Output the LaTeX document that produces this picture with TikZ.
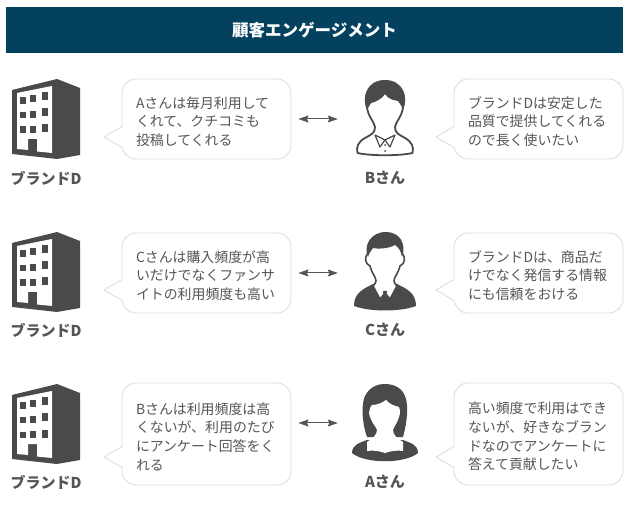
\documentclass[tikz,border=0pt]{standalone}
\usepackage{fontspec}
\usetikzlibrary{arrows.meta}
\setmainfont{Noto Sans CJK JP}
\definecolor{headblue}{HTML}{03415F}
\definecolor{icongray}{HTML}{4A4A4A}
\definecolor{txtgray}{HTML}{555555}
\definecolor{edgegray}{HTML}{DEDEDE}
\tikzset{
	bubble/.style={draw=edgegray,line width=0.9pt,fill=white,rounded corners=14pt,
		text width=141pt,inner xsep=14pt,inner ysep=0pt,minimum height=80pt,align=left,
		text=txtgray,font=\fontsize{13.9}{18.7}\selectfont,
		execute at begin node={\rule{0pt}{17pt}}},
	who/.style={text=txtgray,font=\fontsize{15}{17}\selectfont\bfseries},
	slot/.style={minimum width=94pt,minimum height=80pt,inner sep=0pt},
	link/.style={{Stealth[length=10pt,width=7pt,inset=1.5pt]}-{Stealth[length=10pt,width=7pt,inset=1.5pt]},draw=txtgray,line width=1pt,shorten <=7pt},
	building/.pic={
		\fill[icongray] (0,11)--(45,0)--(68,9)--(68,76)--(45,80)--(0,75)--cycle;
		\fill[white] (5,14)--(40,7)--(40,74)--(25,72.5)--(25,60)--(16,60)--(16,71)--(5,70)--cycle;
		\foreach \xw/\yw/\hw in {7.5/18/7,17.5/16/7.5,30/13.5/8,7.5/33/6.5,17.5/32/7,30/29.5/7.5,7.5/47.5/6.5,17.5/47/7,30/45.5/8}
		\fill[icongray] (\xw,\yw) rectangle ++(6,\hw);
	},
	manb/.pic={
		\draw[icongray,line width=1.8pt,fill=white,line join=round]
		(-18,28) .. controls (-17,38) and (-11,42) .. (-10,48)
		.. controls (-10,54) and (-13,55) .. (-20,59)
		.. controls (-27,63) and (-29,68) .. (-27.5,74)
		.. controls (-15,77) and (15,77) .. (27.5,74)
		.. controls (29,68) and (27,63) .. (20,59)
		.. controls (13,55) and (10,54) .. (10,48)
		.. controls (11,42) and (17,38) .. (18,28);
		\fill[icongray] (-18,31) .. controls (-24,18) and (-18,1) .. (0,1)
		.. controls (18,1) and (24,18) .. (18,31)
		.. controls (16,25) and (14,24) .. (13,22)
		.. controls (8,21) and (3,20) .. (0,15)
		.. controls (-3,20) and (-9,23) .. (-14,24)
		.. controls (-15,26) and (-16,27) .. (-18,31) -- cycle;
		\draw[icongray,line width=1.2pt,line join=round] (-10,56)--(-5,68)--(0,61)--(5,68)--(10,56) (-10,56)--(0,61)--(10,56);
		\fill[icongray] (0,66) circle (1) (0,72) circle (1);
	},
	manc/.pic={
		\fill[icongray] (-12,51) .. controls (-22,56) and (-31,60) .. (-31,73)
		.. controls (-15,79) and (15,79) .. (31,73)
		.. controls (31,60) and (22,56) .. (12,51) -- cycle;
		\draw[icongray,line width=1.6pt,fill=white,line join=round]
		(-17,20) .. controls (-21,24) and (-20,31) .. (-15,33)
		.. controls (-13,41) and (-9,44) .. (-9,48)
		.. controls (-9,50) and (-11,52) .. (-12,53)
		-- (-5,66) -- (0,60) -- (5,66) -- (12,53)
		.. controls (11,52) and (9,50) .. (9,48)
		.. controls (9,44) and (13,41) .. (15,33)
		.. controls (20,31) and (21,24) .. (17,20);
		\fill[icongray] (-2,58) -- (2,58) -- (1.5,61) -- (2.5,68) -- (0,72) -- (-2.5,68) -- (-1.5,61) -- cycle;
		\fill[icongray] (-17,24) .. controls (-22,12) and (-14,-1) .. (1,-1)
		.. controls (14,-1) and (22,10) .. (17,24)
		.. controls (16,18) and (14,15) .. (10,12)
		.. controls (3,16) and (-8,16) .. (-12,15)
		.. controls (-14,18) and (-16,20) .. (-17,24) -- cycle;
	},
	womana/.pic={
		\fill[icongray] (-18,57) .. controls (-26,60) and (-33,62) .. (-33,70)
		.. controls (-20,81) and (20,81) .. (33,70)
		.. controls (33,62) and (26,60) .. (18,57) -- cycle;
		\fill[icongray] (-18,54) .. controls (-23,40) and (-24,22) .. (-20,13)
		.. controls (-15,3) and (-6,1) .. (0,1)
		.. controls (6,1) and (16,3) .. (20,13)
		.. controls (24,22) and (22,40) .. (18,54) -- cycle;
		\fill[white] (-16,30) .. controls (-15,24) and (-14,23) .. (-13,22)
		.. controls (-8,22) and (-3,20) .. (1,17)
		.. controls (4,21) and (10,23) .. (14,24)
		.. controls (15,26) and (15,28) .. (15,30)
		.. controls (13,40) and (9,43) .. (8,47)
		.. controls (8,52) and (12,55) .. (18,59)
		-- (18,68) .. controls (12,67) and (6,68) .. (0,70)
		.. controls (-6,68) and (-12,67) .. (-18,68)
		-- (-18,59) .. controls (-12,55) and (-8,52) .. (-8,47)
		.. controls (-9,43) and (-14,40) .. (-16,30) -- cycle;
	},
}
\newcommand{\tailmark}[2]{
	\fill[white] (#1+1,#2-10.5)--(#1-18,#2)--(#1+1,#2+10.5)--cycle;
	\draw[edgegray,line width=0.9pt,line join=round] (#1,#2-10.5)--(#1-18,#2)--(#1,#2+10.5);
}
\begin{document}
\begin{tikzpicture}[x=1pt,y=-1pt]
	\useasboundingbox (0,0) rectangle (630,505);
	\path[fill=headblue] (6,7) rectangle (623,53);
	\node[text=white,font=\fontsize{16.5}{18}\selectfont\bfseries] (title) at (314.5,30) {顧客エンゲージメント};

	\pic at (12,79) {building};
	\pic at (12,232) {building};
	\pic at (12,384) {building};
	\node[who] (brand1) at (46,178) {ブランドD};
	\node[who] (brand2) at (46,330) {ブランドD};
	\node[who] (brand3) at (46,482) {ブランドD};

	\node[bubble] (said1) at (206.5,119) {Aさんは毎月利用して\\くれて、クチコミも\\投稿してくれる};
	\node[bubble] (said2) at (206.5,273) {Cさんは購入頻度が高\\いだけでなくファンサ\\イトの利用頻度も高い};
	\node[bubble,minimum height=102pt] (said3) at (206.5,434) {Bさんは利用頻度は高\\くないが、利用のたび\\にアンケート回答をく\\れる};
	\tailmark{122}{137}
	\tailmark{122}{290}
	\tailmark{122}{457}

	\node[slot] (man1) at (385,119) {};
	\node[slot] (man2) at (385,273) {};
	\node[slot] (man3) at (385,423) {};
	\pic at (385,79) {manb};
	\pic at (385,233) {manc};
	\pic at (385,383) {womana};
	\node[who] (nameb) at (385,178) {Bさん};
	\node[who] (namec) at (385,330) {Cさん};
	\node[who] (namea) at (385,482) {Aさん};
	\draw[link] (said1.east) -- (man1.west);
	\draw[link] (said2.east) -- (man2.west);
	\draw[link] (said3.east |- man3) -- (man3.west);

	\node[bubble] (reply1) at (538.5,119) {ブランドDは安定した\\品質で提供してくれる\\ので長く使いたい};
	\node[bubble] (reply2) at (538.5,273) {ブランドDは、商品だ\\けでなく発信する情報\\にも信頼をおける};
	\node[bubble,minimum height=102pt] (reply3) at (538.5,434) {高い頻度で利用はでき\\ないが、好きなブラン\\ドなのでアンケートに\\答えて貢献したい};
	\tailmark{454}{137}
	\tailmark{454}{290}
	\tailmark{454}{457}
\end{tikzpicture}
\end{document}
